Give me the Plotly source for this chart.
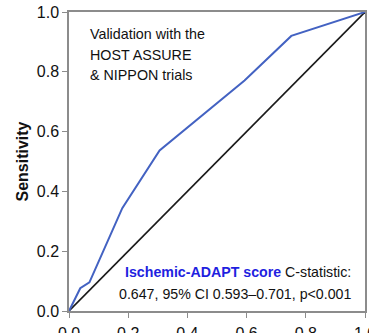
import plotly.graph_objects as go

# ROC curve for the Ischemic-ADAPT score (1 - specificity vs sensitivity)
fpr = [0.0, 0.038, 0.069, 0.180, 0.306, 0.593, 0.751, 1.0]
tpr = [0.0, 0.076, 0.096, 0.344, 0.537, 0.771, 0.920, 1.0]

# reference (chance) diagonal
ref_x = [0.0, 1.0]
ref_y = [0.0, 1.0]

tick_vals = [0.0, 0.2, 0.4, 0.6, 0.8, 1.0]
tick_text = ["0.0", "0.2", "0.4", "0.6", "0.8", "1.0"]

info_lines = ["Validation with the", "HOST ASSURE", "& NIPPON trials"]
info_y = [0.927, 0.857, 0.788]

score_name = "Ischemic-ADAPT score"
stat_line1 = " C-statistic:"
stat_line2 = "0.647, 95% CI 0.593\u20130.701, p<0.001"

FONT = "Liberation Sans, Arial, sans-serif"
AXIS_GREY = "#8c8c8c"

fig = go.Figure()
fig.add_trace(go.Scatter(x=ref_x, y=ref_y, mode="lines",
                         line=dict(color="#1a1a1a", width=1.6),
                         cliponaxis=False, showlegend=False, hoverinfo="skip"))
fig.add_trace(go.Scatter(x=fpr, y=tpr, mode="lines",
                         line=dict(color="#4362c2", width=2),
                         cliponaxis=False, showlegend=False))

axis_common = dict(range=[0, 1], showgrid=False, zeroline=False, automargin=False,
                   showline=True, mirror=True, linecolor=AXIS_GREY, linewidth=1.5,
                   ticks="outside", ticklen=5, tickcolor=AXIS_GREY, tickwidth=1.2,
                   tickvals=tick_vals, ticktext=tick_text,
                   tickfont=dict(family=FONT, size=16, color="#111111"))

fig.update_xaxes(**axis_common, ticklabelstandoff=2, ticklabeloverflow="allow")
fig.update_yaxes(**axis_common,
                 title=dict(text="<b>Sensitivity</b>",
                            font=dict(family=FONT, size=16, color="#111111"),
                            standoff=4))

annotations = []
for text, yv in zip(info_lines, info_y):
    annotations.append(dict(x=0.064, y=yv, xref="x", yref="y", text=text,
                            showarrow=False, xanchor="left", yanchor="middle",
                            font=dict(family=FONT, size=14.3, color="#111111")))

annotations.append(dict(x=0.958, y=0.132, xref="x", yref="y",
                        text=f"<b><span style='color:#1f1fe0'>{score_name}</span></b>{stat_line1}",
                        showarrow=False, xanchor="right", yanchor="middle",
                        font=dict(family=FONT, size=14.2, color="#111111")))
annotations.append(dict(x=0.958, y=0.056, xref="x", yref="y", text=stat_line2,
                        showarrow=False, xanchor="right", yanchor="middle",
                        font=dict(family=FONT, size=14.2, color="#111111")))

fig.update_layout(width=369, height=333,
                  margin=dict(l=69, r=4, t=12, b=22),
                  paper_bgcolor="white", plot_bgcolor="white",
                  annotations=annotations)

fig.write_html("out.html")
